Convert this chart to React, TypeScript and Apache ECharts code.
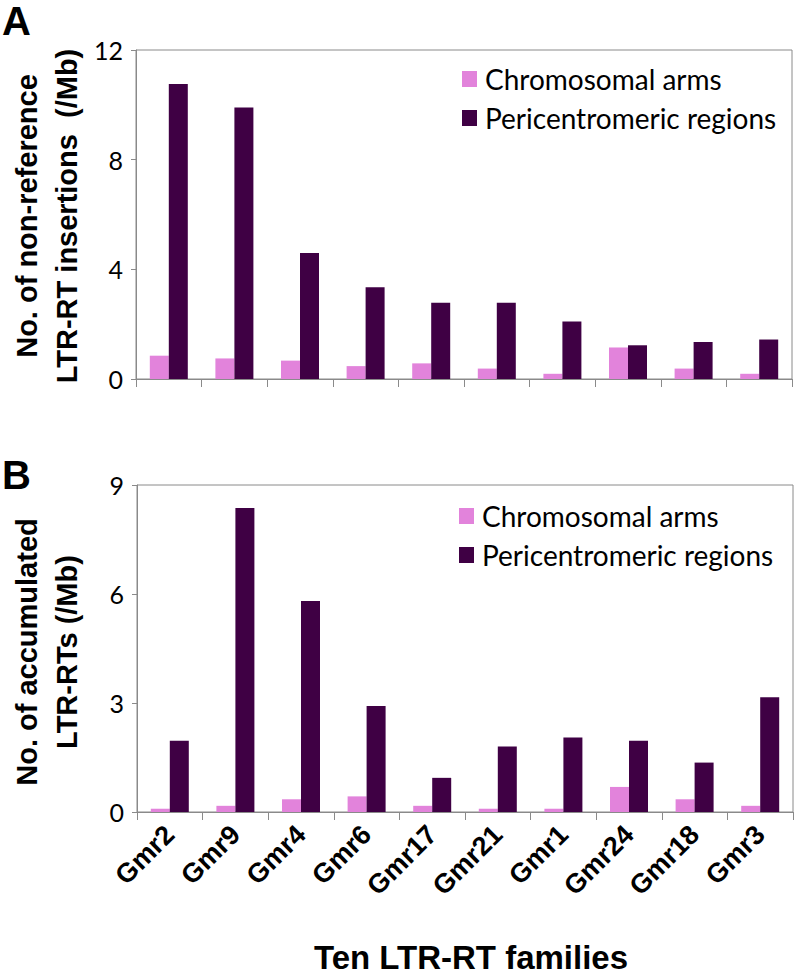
import React, { useEffect, useRef } from "react";
import * as echarts from "echarts";

const categories = ["Gmr2", "Gmr9", "Gmr4", "Gmr6", "Gmr17", "Gmr21", "Gmr1", "Gmr24", "Gmr18", "Gmr3"];
const seriesNames = ["Chromosomal arms", "Pericentromeric regions"];
// Panel A: non-reference LTR-RT insertions (/Mb)
const insertionsArms = [0.85, 0.75, 0.67, 0.47, 0.57, 0.38, 0.19, 1.15, 0.38, 0.19];
const insertionsPeri = [10.76, 9.9, 4.6, 3.35, 2.78, 2.78, 2.1, 1.23, 1.35, 1.44];
// Panel B: accumulated LTR-RTs (/Mb)
const accumulatedArms = [0.09, 0.17, 0.35, 0.43, 0.17, 0.09, 0.09, 0.69, 0.35, 0.17];
const accumulatedPeri = [1.96, 8.37, 5.81, 2.92, 0.94, 1.8, 2.05, 1.96, 1.36, 3.16];
const yTicksA = [0, 4, 8, 12];
const yTicksB = [0, 3, 6, 9];

const PINK = "#E283DB";
const DARK = "#3F0044";
const AXIS = "#8a8a8a";
const SANS = "'Liberation Sans', Arial, sans-serif";
const LABEL = "Lato, 'Open Sans', sans-serif";

export default function App() {
  const ref = useRef<HTMLDivElement>(null);
  useEffect(() => {
    if (!ref.current) return;
    const chart = echarts.init(ref.current, null, { renderer: "svg" });
    const yAxisCommon = (ticks: number[], gridIndex: number) => ({
      type: "value",
      gridIndex,
      min: ticks[0],
      max: ticks[ticks.length - 1],
      interval: ticks[1] - ticks[0],
      axisLine: { show: true, lineStyle: { color: AXIS, width: 1 } },
      axisTick: { show: true, length: 5, lineStyle: { color: AXIS } },
      splitLine: { show: false },
      axisLabel: { color: "#000", fontFamily: LABEL, fontSize: 25, margin: 13 },
    });
    const xAxisCommon = (gridIndex: number, showLabels: boolean) => ({
      type: "category",
      gridIndex,
      data: categories,
      boundaryGap: true,
      axisLine: { show: true, lineStyle: { color: AXIS, width: 1 } },
      axisTick: { show: true, length: 8, alignWithLabel: false, lineStyle: { color: AXIS } },
      axisLabel: showLabels
        ? {
            show: true,
            rotate: 45,
            interval: 0,
            hideOverlap: false,
            color: "#000",
            fontFamily: SANS,
            fontWeight: "bold",
            fontSize: 27,
            margin: 18,
            padding: [30, 0, 0, 0],
          }
        : { show: false },
    });
    const bar = (name: string, data: number[], color: string, idx: number) => ({
      type: "bar",
      name,
      data,
      xAxisIndex: idx,
      yAxisIndex: idx,
      barWidth: 19,
      barGap: "0%",
      itemStyle: { color },
    });
    const legend = (left: number, top: number) => ({
      data: seriesNames,
      orient: "vertical",
      left,
      top,
      icon: "rect",
      itemWidth: 15,
      itemHeight: 16,
      itemGap: 11,
      textStyle: { color: "#000", fontFamily: LABEL, fontSize: 28, padding: [0, 0, 0, 3] },
    });
    chart.setOption({
      animation: false,
      backgroundColor: "#fff",
      grid: [
        { left: 136, top: 50, width: 656, height: 329, show: true, borderColor: AXIS, borderWidth: 1, backgroundColor: "transparent" },
        { left: 137, top: 485, width: 656, height: 327, show: true, borderColor: AXIS, borderWidth: 1, backgroundColor: "transparent" },
      ],
      legend: [legend(457, 60), legend(454, 497)],
      xAxis: [xAxisCommon(0, false), xAxisCommon(1, true)],
      yAxis: [yAxisCommon(yTicksA, 0), yAxisCommon(yTicksB, 1)],
      series: [
        bar(seriesNames[0], insertionsArms, PINK, 0),
        bar(seriesNames[1], insertionsPeri, DARK, 0),
        bar(seriesNames[0], accumulatedArms, PINK, 1),
        bar(seriesNames[1], accumulatedPeri, DARK, 1),
      ],
      graphic: [
        {
          type: "text",
          x: 2,
          y: 21,
          style: { text: "A", font: `bold 40px ${SANS}`, fill: "#000", textAlign: "left", textVerticalAlign: "middle" },
        },
        {
          type: "text",
          x: 2,
          y: 475,
          style: { text: "B", font: `bold 40px ${SANS}`, fill: "#000", textAlign: "left", textVerticalAlign: "middle" },
        },
        {
          type: "text",
          x: 47,
          y: 216,
          rotation: Math.PI / 2,
          style: {
            text: "No. of non-reference\nLTR-RT insertions  (/Mb)",
            font: `bold 29px ${SANS}`,
            lineHeight: 40,
            fill: "#000",
            textAlign: "center",
            textVerticalAlign: "middle",
          },
        },
        {
          type: "text",
          x: 47,
          y: 652,
          rotation: Math.PI / 2,
          style: {
            text: "No. of accumulated\nLTR-RTs (/Mb)",
            font: `bold 29px ${SANS}`,
            lineHeight: 40,
            fill: "#000",
            textAlign: "center",
            textVerticalAlign: "middle",
          },
        },
        {
          type: "text",
          x: 471,
          y: 957,
          style: {
            text: "Ten LTR-RT families",
            font: `bold 33px ${SANS}`,
            fill: "#000",
            textAlign: "center",
            textVerticalAlign: "middle",
          },
        },
      ],
    });
    return () => chart.dispose();
  }, []);
  return (
    <div
      ref={ref}
      style={{ position: "absolute", left: 0, top: 0, width: 797, height: 977, background: "#fff" }}
    />
  );
}
